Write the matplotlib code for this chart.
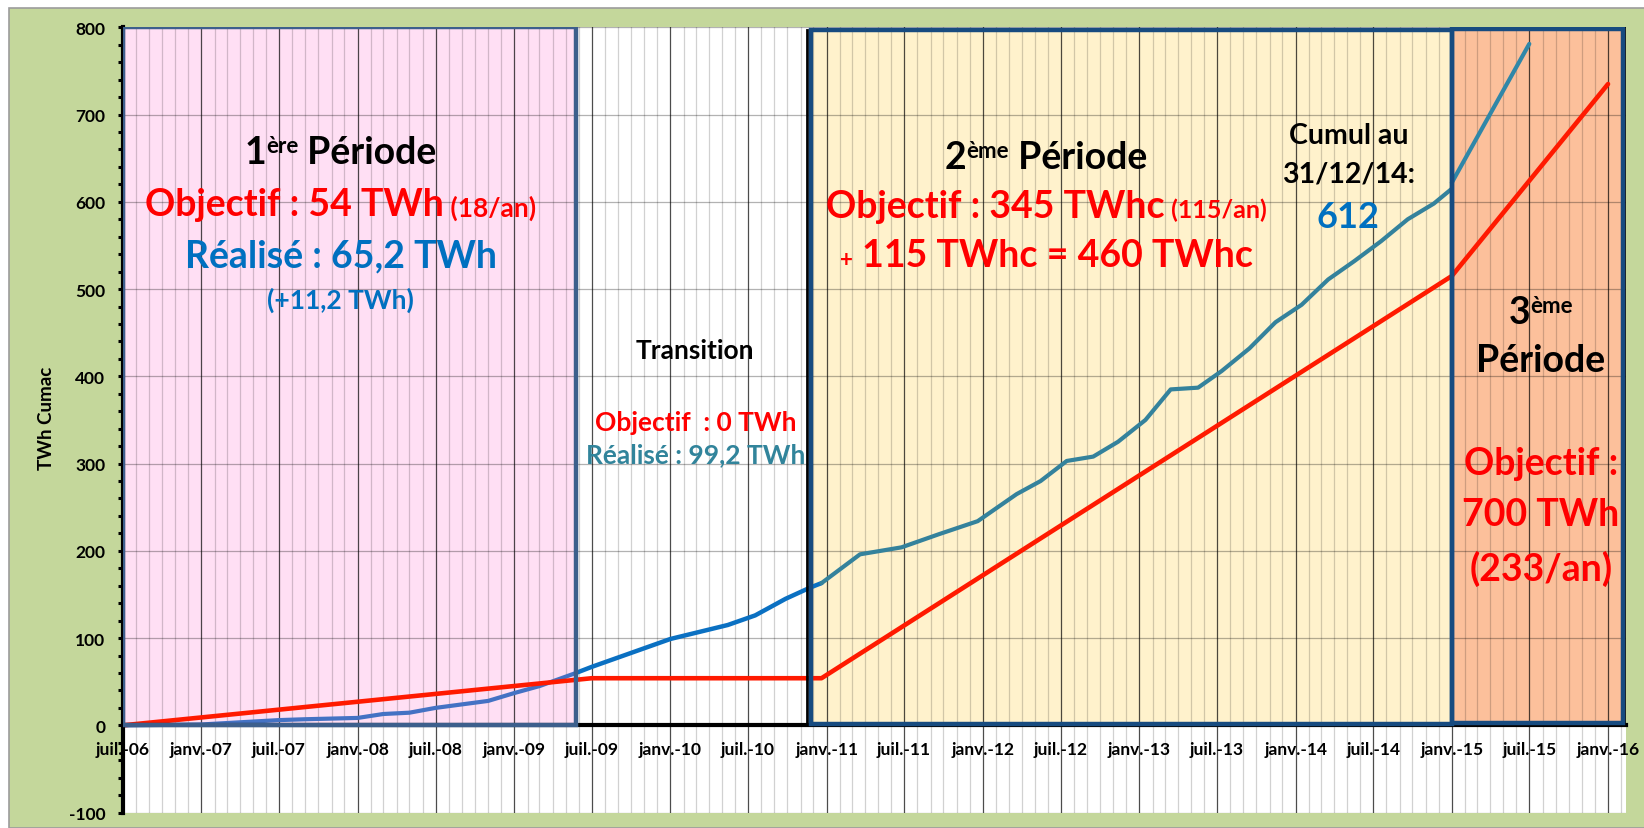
import numpy as np
import pandas as pd
import matplotlib
matplotlib.use('Agg')
import matplotlib.pyplot as plt
import matplotlib.dates as mdates
from matplotlib.patches import Rectangle
from matplotlib.offsetbox import TextArea, HPacker, AnnotationBbox
from matplotlib.ticker import FuncFormatter, MultipleLocator
from matplotlib.transforms import offset_copy

FONT = 'Lato'
plt.rcParams['font.family'] = FONT
plt.rcParams['font.weight'] = 'bold'
plt.rcParams['axes.unicode_minus'] = False

RED = '#ff0000'
BLUE = '#0070c0'
TEAL = '#31849b'

# objectif (red line)
obj_dates = ['2006-07-01', '2009-07-01', '2010-12-20', '2015-01-01', '2016-01-01']
obj_vals = [0, 54, 54, 515, 735]

# realise, 1ere periode
p1_dates = ['2006-07-01', '2007-01-01', '2007-07-01', '2007-09-01', '2008-01-01', '2008-03-01',
            '2008-05-01', '2008-07-01', '2008-11-01', '2009-01-01', '2009-03-01', '2009-05-25']
p1_vals = [0, 1, 6, 7, 8.5, 13, 14.5, 20, 28, 37, 45, 60]

# realise, transition
tr_dates = ['2009-05-25', '2009-07-01', '2010-01-01', '2010-05-15', '2010-07-18',
            '2010-09-27', '2010-11-24', '2010-12-20']
tr_vals = [60, 67, 99, 115, 126, 145, 158, 163]

# realise, 2eme periode
p2_dates = ['2010-12-20', '2011-03-20', '2011-06-25', '2011-09-20', '2011-12-20', '2012-03-20',
            '2012-05-15', '2012-07-15', '2012-09-15', '2012-11-12', '2013-01-15', '2013-03-15',
            '2013-05-18', '2013-07-12', '2013-09-15', '2013-11-15', '2014-01-15', '2014-03-18',
            '2014-05-18', '2014-07-20', '2014-09-20', '2014-11-20', '2015-01-01']
p2_vals = [163, 196, 204, 219, 234, 265, 280, 303, 308, 325, 350, 385,
           387, 406, 432, 462, 482, 511, 532, 555, 580, 598, 615]

# realise, 3eme periode
p3_dates = ['2015-01-01', '2015-07-01']
p3_vals = [622, 781]


def d(s):
    return mdates.date2num(pd.Timestamp(s))


fig = plt.figure(figsize=(16.44, 8.29), dpi=100)
fig.patch.set_facecolor('white')
fig.add_artist(Rectangle((9 / 1644, 0), 1, 1 - 9 / 829, transform=fig.transFigure,
                         facecolor='#c4d79b', edgecolor='#9c9c9c', lw=1.2, zorder=-1))

ax = fig.add_axes([122.7 / 1644, 1 - 813.6 / 829, (1626 - 122.7) / 1644, (813.6 - 28.3) / 829])
ax.set_facecolor('white')
ax.set_xlim(d('2006-07-01'), d('2016-02-12'))
ax.set_ylim(-100, 800)

# period boxes: fill below grid, border on top of lines
def box(d0, d1, y0, y1, face, edge):
    x0, x1 = d(d0), d(d1)
    ax.add_patch(Rectangle((x0, y0), x1 - x0, y1 - y0, facecolor=face, edgecolor='none', zorder=0.2))
    ax.add_patch(Rectangle((x0, y0), x1 - x0, y1 - y0, facecolor='none', edgecolor=edge,
                           lw=3.2, zorder=3.1))
    return x0, x1

box('2006-07-01', '2009-05-25', 0, 800, '#ffdff4', '#3d5f8c')
yx0, yx1 = box('2010-11-25', '2015-01-01', 2, 797, '#fff2cc', '#174b80')
ox0, ox1 = box('2015-01-01', '2016-02-04', 3, 798, '#fcc09b', '#174b80')
ax.plot([yx0, yx0], [0, 797], color='black', lw=2, zorder=3,
        transform=offset_copy(ax.transData, fig=fig, x=-3.5, units='dots'))
ax.plot([ox0, ox1, ox1], [798, 798, 0], color='black', lw=2, zorder=3,
        transform=offset_copy(ax.transData, fig=fig, x=3, y=3, units='dots'))

# lines
ax.plot(pd.to_datetime(p1_dates), p1_vals, color='#4472c4', lw=3, zorder=2.2, solid_capstyle='round')
ax.plot(pd.to_datetime(tr_dates), tr_vals, color='#0a70c2', lw=3.2, zorder=2.2, solid_capstyle='round')
ax.plot(pd.to_datetime(p2_dates), p2_vals, color='#34829c', lw=3, zorder=2.2, solid_capstyle='round')
ax.plot(pd.to_datetime(p3_dates), p3_vals, color='#3087a8', lw=3, zorder=2.2, solid_capstyle='round')
ax.plot(pd.to_datetime(obj_dates), obj_vals, color='#ff1a00', lw=3.3, zorder=2.4, solid_capstyle='round')

# axes, ticks, grid
ax.xaxis.set_major_locator(mdates.MonthLocator(bymonth=[1, 7]))
ax.xaxis.set_minor_locator(mdates.MonthLocator())
ax.xaxis.set_major_formatter(FuncFormatter(
    lambda v, p: ('janv.' if mdates.num2date(v).month == 1 else 'juil.') + '-%02d' % (mdates.num2date(v).year % 100)))
ax.yaxis.set_major_locator(MultipleLocator(100))
ax.yaxis.set_minor_locator(MultipleLocator(20))
ax.set_axisbelow(True)
ax.grid(which='major', axis='x', color='black', alpha=0.7, lw=0.9)
ax.grid(which='minor', axis='x', color='black', alpha=0.18, lw=0.9)
ax.grid(which='major', axis='y', color='black', alpha=0.3, lw=0.9)

ax.tick_params(axis='y', which='both', direction='out', length=3.5, width=2.2, color='black',
               labelsize=12.5, pad=9)
ax.tick_params(axis='x', which='both', length=0, labelsize=12.5, pad=11)
for s in ['top', 'right']:
    ax.spines[s].set_visible(False)
ax.spines['left'].set_linewidth(3)
ax.spines['bottom'].set_linewidth(3)
ax.spines['bottom'].set_position(('data', 0))
ax.spines['bottom'].set_zorder(2.6)

fig.text(47 / 1644, 1 - 418 / 829, 'TWh Cumac', rotation=90, ha='center', va='center',
         fontsize=13.5, fontweight='bold')


def label(x, y, parts, align='baseline'):
    kids = [TextArea(t, textprops=dict(fontsize=s, color=c, fontweight='bold', fontfamily=FONT))
            for t, s, c in parts]
    pack = HPacker(children=kids, align=align, pad=0, sep=0)
    ab = AnnotationBbox(pack, (d(x), y), xycoords='data', frameon=False,
                        box_alignment=(0.5, 0.5), pad=0, annotation_clip=False)
    ab.set_zorder(5)
    ax.add_artist(ab)


label('2007-11-22', 657, [('1', 27, 'k'), ('ère', 16, 'k'), (' Période', 27, 'k')], align='top')
label('2007-11-22', 597, [('Objectif : 54 TWh', 27, RED), (' (18/an)', 19, RED)])
label('2007-11-22', 539, [('Réalisé : 65,2 TWh', 27, BLUE)])
label('2007-11-22', 488, [('(+11,2 TWh)', 19, BLUE)])

label('2010-02-28', 430, [('Transition', 19, 'k')])
label('2010-02-28', 348, [('Objectif  : 0 TWh', 19, RED)])
label('2010-02-28', 311, [('Réalisé : 99,2 TWh', 19, TEAL)])

label('2012-05-28', 651, [('2', 27, 'k'), ('ème', 16, 'k'), (' Période', 27, 'k')], align='top')
label('2012-05-28', 595, [('Objectif : 345 TWhc', 27, RED), (' (115/an)', 18, RED)])
label('2012-05-28', 539, [('+', 16, RED), (' 115 TWhc = 460 TWhc', 27, RED)])

label('2014-05-04', 676, [('Cumul au', 20.5, 'k')])
label('2014-05-04', 633, [('31/12/14:', 20.5, 'k')])
label('2014-05-04', 583, [('612', 26, BLUE)])

label('2015-07-28', 474, [('3', 27, 'k'), ('ème', 16, 'k')], align='top')
label('2015-07-28', 419, [('Période', 27, 'k')])
label('2015-07-28', 301, [('Objectif :', 27, RED)])
label('2015-07-28', 242, [('700 TWh', 27, RED)])
label('2015-07-28', 181, [('(233/an)', 27, RED)])

fig.savefig('out.png', dpi=100)
